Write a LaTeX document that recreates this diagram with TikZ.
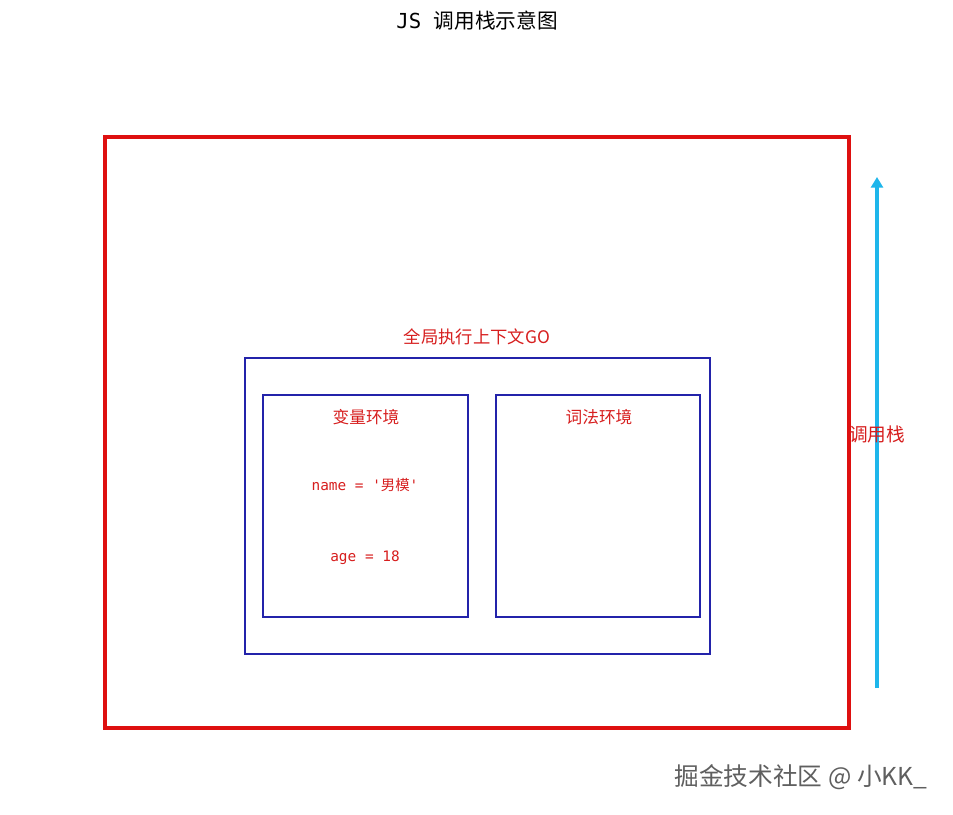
\documentclass[tikz,border=0pt]{standalone}
\usepackage{fontspec}
\setmainfont{Noto Sans CJK SC}
\newfontfamily\cjk{Noto Sans CJK SC}
\newfontfamily\monof{DejaVu Sans Mono}
\usetikzlibrary{arrows.meta}
\definecolor{boxred}{RGB}{222,16,16}
\definecolor{txtred}{RGB}{215,30,30}
\definecolor{boxblue}{RGB}{35,35,170}
\definecolor{arrcyan}{RGB}{30,182,235}
\definecolor{wmgray}{RGB}{95,95,95}
\tikzset{
  redframe/.style={draw=boxred, line width=2.3pt},
  bluebox/.style={draw=boxblue, line width=1.1pt},
  redlabel/.style={text=txtred, inner sep=0pt, font=\cjk\fontsize{12.5}{14}\selectfont},
  codelabel/.style={text=txtred, inner sep=0pt, font=\fontsize{10.8}{12}\selectfont},
}
\begin{document}
\begin{tikzpicture}[x=0.75pt,y=-0.75pt]
\useasboundingbox (0,0) rectangle (953,814);
\fill[white] (0,0) rectangle (953,814);
\node[inner sep=0pt, font=\fontsize{15.5}{17}\selectfont] (title) at (477,21) {{\monof JS }{\cjk 调用栈示意图}};
\draw[redframe] (105,137) rectangle (849,728);
\coordinate (abot) at (877,688);
\coordinate (atop) at (877,177);
\draw[arrcyan, line width=2.3pt, -{Triangle[length=8pt,width=9pt]}] (abot) -- (atop);
\node[redlabel, font=\cjk\fontsize{14}{16}\selectfont] (stack) at (877,434) {调用栈};
\node[redlabel, font=\cjk\fontsize{13}{15}\selectfont] (go) at (477,337) {全局执行上下文GO};
\draw[bluebox] (245,358) rectangle (710,654);
\draw[bluebox] (263,395) rectangle (468,617);
\draw[bluebox] (496,395) rectangle (700,617);
\node[redlabel] (varenv) at (366,417) {变量环境};
\node[redlabel] (lexenv) at (599,417) {词法环境};
\node[codelabel] (name) at (365,485) {{\monof name = '}{\cjk 男模}{\monof '}};
\node[codelabel] (age) at (365,558) {{\monof age = 18}};
\node[text=wmgray, inner sep=0pt, font=\cjk\fontsize{18.5}{20}\selectfont] (wm) at (801,777) {掘金技术社区 @ 小KK\_};
\end{tikzpicture}
\end{document}
